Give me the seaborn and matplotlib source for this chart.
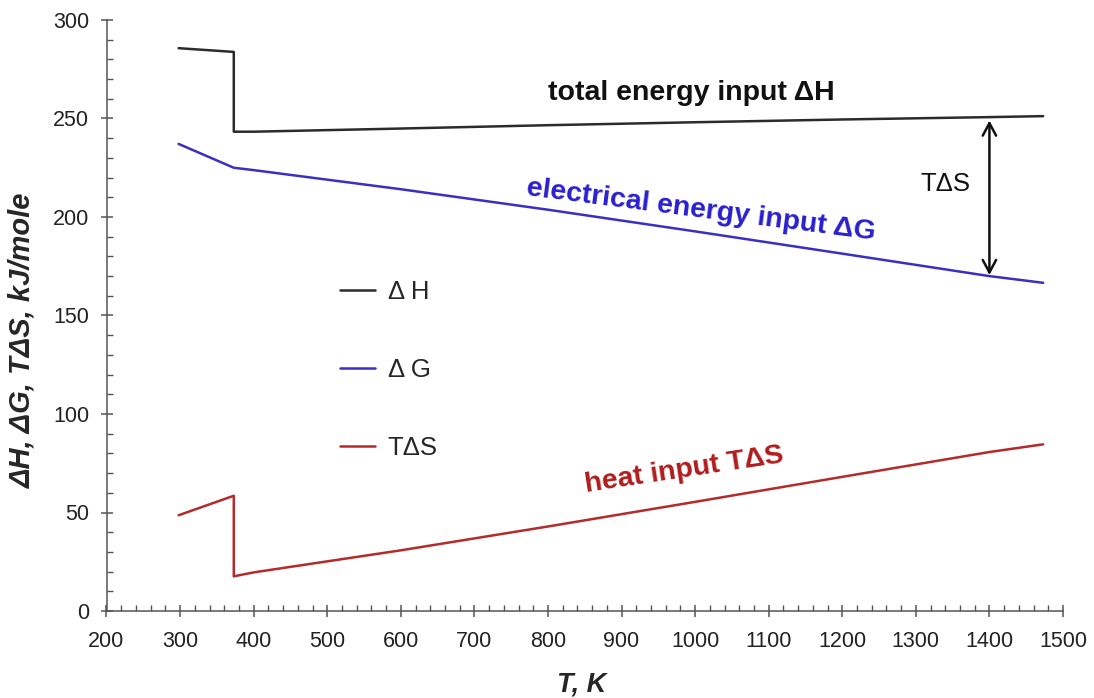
import matplotlib
matplotlib.use("Agg")
import matplotlib.pyplot as plt
import seaborn as sns
import pandas as pd
from matplotlib.ticker import MultipleLocator

# Temperature, K (373 K repeated for the liquid -> vapour step)
T = [298, 373, 373, 400, 600, 800, 1000, 1200, 1400, 1473]
# Total energy input dH, kJ/mole
dH = [285.7, 283.8, 243.3, 243.3, 244.9, 246.6, 248.1, 249.5, 250.7, 251.2]
# Electrical energy input dG, kJ/mole
dG = [237.1, 225.0, 225.0, 223.8, 214.1, 203.7, 192.7, 181.4, 170.0, 166.6]
# Heat input TdS, kJ/mole
TdS = [48.6, 58.5, 17.6, 19.6, 30.8, 42.9, 55.4, 68.1, 80.7, 84.6]

series_names = ["\u0394 H", "\u0394 G", "T\u0394S"]
series_colors = ["#2b2b2b", "#3a2fc4", "#b52a2a"]

sns.set_theme(style="white")
plt.rcParams["font.family"] = ["Liberation Sans", "DejaVu Sans"]

fig = plt.figure(figsize=(10.94, 6.98), dpi=100)
ax = fig.add_axes([106.5 / 1094, 1 - 611 / 698, (1063 - 106.5) / 1094, (611 - 20) / 698])

for vals, name, col in zip([dH, dG, TdS], series_names, series_colors):
    df = pd.DataFrame({"T": T, "v": vals})
    sns.lineplot(data=df, x="T", y="v", ax=ax, color=col, linewidth=1.8,
                 estimator=None, sort=False, label=name)

ax.set_xlim(200, 1500)
ax.set_ylim(0, 300)
ax.xaxis.set_major_locator(MultipleLocator(100))
ax.xaxis.set_minor_locator(MultipleLocator(20))
ax.yaxis.set_major_locator(MultipleLocator(50))
ax.yaxis.set_minor_locator(MultipleLocator(10))
ax.tick_params(which="major", direction="inout", length=9, width=1.1, color="#555555",
               labelsize=15.5, labelcolor="#222222", bottom=True, left=True, pad=8)
ax.tick_params(axis="x", which="major", pad=10)
ax.tick_params(which="minor", direction="in", length=4, width=1.0, color="#555555",
               bottom=True, left=True)
for s in ["top", "right"]:
    ax.spines[s].set_visible(False)
for s in ["left", "bottom"]:
    ax.spines[s].set_color("#555555")
    ax.spines[s].set_linewidth(1.1)
ax.grid(False)

ax.set_xlabel("T, K", fontsize=19.5, fontweight="bold", fontstyle="italic")
ax.set_ylabel("\u0394H, \u0394G, T\u0394S, kJ/mole", fontsize=21, fontweight="bold",
              fontstyle="italic")
ax.xaxis.set_label_coords(0.497, (611 - 671) / 591)
ax.yaxis.set_label_coords((36 - 106.5) / 956.5, (611 - 340) / 591)

leg = ax.legend(loc="upper left", bbox_to_anchor=(0.220, 0.599), frameon=False,
                fontsize=18.5, handlelength=1.36, handletextpad=0.5, labelspacing=2.1)

ax.text(995, 263, "total energy input \u0394H", fontsize=20.5, fontweight="bold",
        color="#111111", ha="center", va="center")
ax.text(1008, 203.5, "electrical energy input \u0394G", fontsize=20.5, fontweight="bold",
        color="#2a1fcf", ha="center", va="center", rotation=-7.3, rotation_mode="anchor")
ax.text(985, 71.6, "heat input T\u0394S", fontsize=20.5, fontweight="bold",
        color="#b01c1c", ha="center", va="center", rotation=8.6, rotation_mode="anchor")

ax.annotate("", xy=(1400, 249), xytext=(1400, 170.5),
            arrowprops=dict(arrowstyle="<->,head_length=0.75,head_width=0.4",
                            color="#111111", lw=1.8, shrinkA=0, shrinkB=0))
ax.text(1340, 217, "T\u0394S", fontsize=18.5, color="#111111", ha="center", va="center")

fig.savefig("out.png", dpi=100)
